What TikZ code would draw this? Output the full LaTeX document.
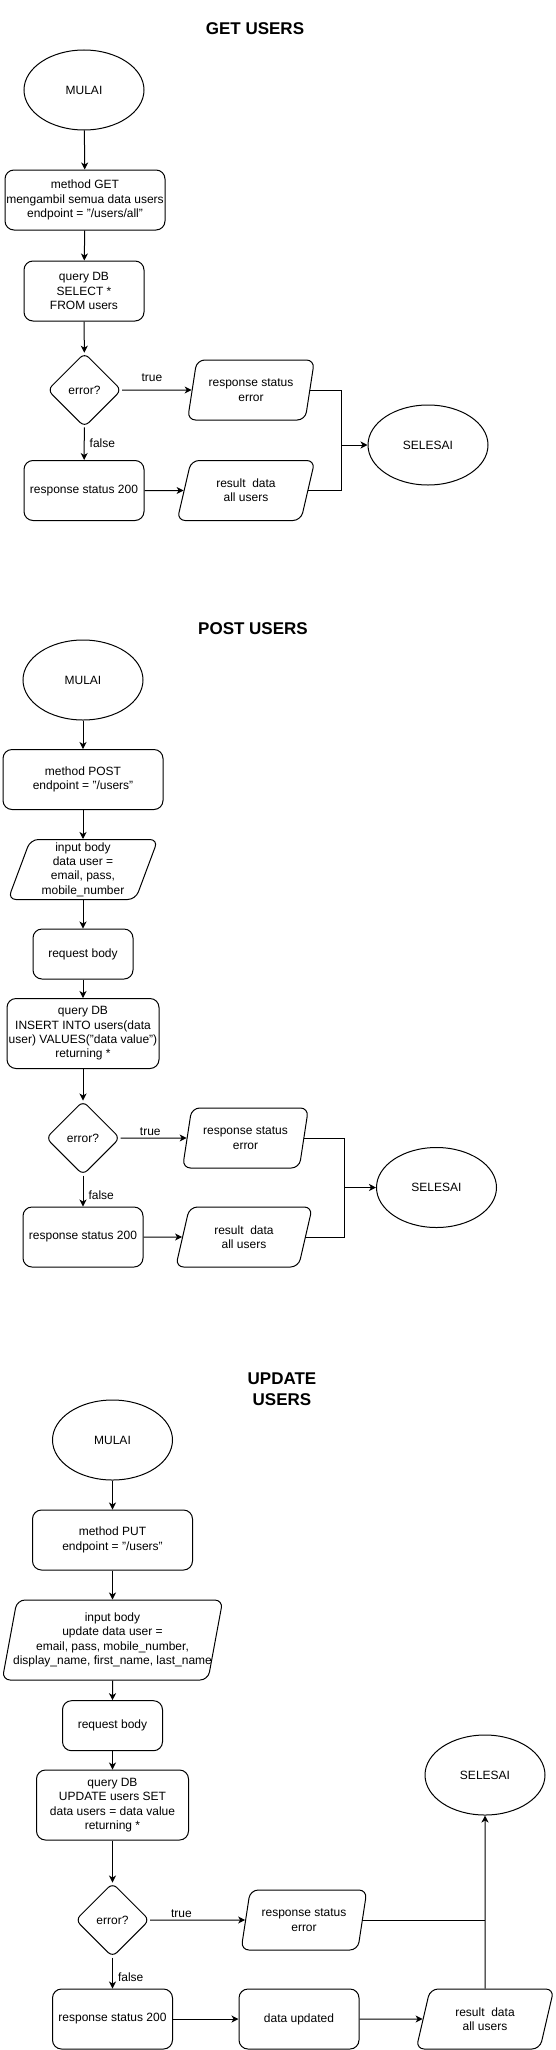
\documentclass[tikz,border=0pt]{standalone}
\usepackage{fontspec}
\setmainfont{Liberation Sans}
\usetikzlibrary{shapes.geometric,arrows.meta,calc}

\begin{document}
\begin{tikzpicture}[
		x=1pt, y=-1pt,
		every node/.style={font=\fontsize{12}{14.4}\selectfont},
		ttl/.style={font=\fontsize{17}{21}\selectfont\bfseries, align=center},
		term/.style={draw, ellipse, minimum width=120, minimum height=80, inner sep=0pt},
		proc/.style={draw, rounded corners=9pt, minimum width=120, minimum height=60, inner sep=1pt, align=center},
		io/.style={draw, trapezium, trapezium left angle=72, trapezium right angle=108, trapezium stretches=true,
			rounded corners=8pt, minimum width=128, minimum height=60, inner sep=0pt, align=center},
		dec/.style={draw, diamond, aspect=1, rounded corners=6pt, minimum width=74, minimum height=74, inner sep=0pt},
		arr/.style={-{Stealth[length=7pt, width=7pt, inset=2pt]}},
		lbl/.style={inner sep=1pt},
		line width=1pt
		]
		\useasboundingbox (0,0) rectangle (555,2050);
		
		% ===== GET USERS =====
		\node[ttl] (gTitle) at (255,29) {GET USERS};
		\node[term] (gStart) at (84,90) {MULAI};
		\node[proc, minimum width=160] (gMethod) at (85,200) {method GET\\mengambil semua data users\\endpoint = "/users/all"};
		\node[proc] (gQuery) at (84,291) {query DB\\SELECT *\\FROM users};
		\node[dec] (gCheck) at (84.5,390) {error?};
		\node[io] (gFail) at (251,390) {response status\\error};
		\node[term] (gEnd) at (428,445) {SELESAI};
		\node[proc] (gOk) at (84,490.5) {response status 200};
		\node[io, minimum width=138] (gResult) at (246,490.5) {result\ \ data\\all users};
		\coordinate (gJoin) at (341,445);
		
		\draw[arr] (gStart) -- (gMethod);
		\draw[arr] (gMethod) -- (gQuery);
		\draw[arr] (gQuery) -- (gCheck);
		\draw[arr] (gCheck) -- node[lbl, pos=0.43, above, yshift=7pt] {true} (gFail);
		\draw[arr] (gCheck) -- node[lbl, right, xshift=4pt] {false} (gOk);
		\draw[arr] (gOk) -- (gResult);
		\draw (gFail.east) -| (gJoin);
		\draw (gResult.east) -| (gJoin);
		\draw[arr] (gJoin) -- (gEnd);
		
		% ===== POST USERS =====
		\node[ttl] (pTitle) at (253,629) {POST USERS};
		\node[term] (pStart) at (83,680) {MULAI};
		\node[proc, minimum width=160] (pMethod) at (83,779.5) {method POST\\endpoint = "/users"};
		\node[io, minimum width=150] (pInput) at (83,869.5) {input body\\data user =\\email, pass,\\mobile\_number};
		\node[proc, minimum width=100, minimum height=50] (pBody) at (83,954) {request body};
		\node[proc, minimum width=152, minimum height=70] (pQuery) at (83,1033.5) {query DB\\INSERT INTO users(data\\user) VALUES("data value")\\returning *};
		\node[dec] (pCheck) at (83,1138) {error?};
		\node[io, minimum width=127] (pFail) at (245.5,1138) {response status\\error};
		\node[term] (pEnd) at (436.5,1187.5) {SELESAI};
		\node[proc] (pOk) at (83,1237) {response status 200};
		\node[io, minimum width=137] (pResult) at (244,1237) {result\ \ data\\all users};
		\coordinate (pJoin) at (344,1187.5);
		
		\draw[arr] (pStart) -- (pMethod);
		\draw[arr] (pMethod) -- (pInput);
		\draw[arr] (pInput) -- (pBody);
		\draw[arr] (pBody) -- (pQuery);
		\draw[arr] (pQuery) -- (pCheck);
		\draw[arr] (pCheck) -- node[lbl, pos=0.45, yshift=6pt] {true} (pFail);
		\draw[arr] (pCheck) -- node[lbl, right, xshift=4pt, yshift=-4pt] {false} (pOk);
		\draw[arr] (pOk) -- (pResult);
		\draw (pFail.east) -| (pJoin);
		\draw (pResult.east) -| (pJoin);
		\draw[arr] (pJoin) -- (pEnd);
		
		% ===== UPDATE USERS =====
		\node[ttl] (uTitle) at (282,1389.5) {UPDATE\\USERS};
		\node[term] (uStart) at (112.5,1440) {MULAI};
		\node[proc, minimum width=160] (uMethod) at (112.5,1540) {method PUT\\endpoint = "/users"};
		\node[io, minimum width=221, minimum height=80, trapezium left angle=76, trapezium right angle=104, inner xsep=-12pt] (uInput) at (112.5,1640) {input body\\update data user =\\email, pass, mobile\_number,\\display\_name, first\_name, last\_name};
		\node[proc, minimum width=100, minimum height=50] (uBody) at (112.5,1725.7) {request body};
		\node[proc, minimum width=152, minimum height=70] (uQuery) at (112.5,1805) {query DB\\UPDATE users SET\\data users = data value\\returning *};
		\node[dec] (uCheck) at (112.5,1920) {error?};
		\node[io, minimum width=127] (uFail) at (304,1920) {response status\\error};
		\node[term] (uEnd) at (485,1775) {SELESAI};
		\node[proc] (uOk) at (112.5,2019) {response status 200};
		\node[proc] (uUpd) at (299,2019) {data updated};
		\node[io, minimum width=138] (uResult) at (485,2019) {result\ \ data\\all users};
		\coordinate (uJoin) at (uFail.east -| uEnd.south);
		
		\draw[arr] (uStart) -- (uMethod);
		\draw[arr] (uMethod) -- (uInput);
		\draw[arr] (uInput) -- (uBody);
		\draw[arr] (uBody) -- (uQuery);
		\draw[arr] (uQuery) -- (uCheck);
		\draw[arr] (uCheck) -- node[lbl, pos=0.33, yshift=6pt] {true} (uFail);
		\draw[arr] (uCheck) -- node[lbl, right, xshift=4pt, yshift=-4pt] {false} (uOk);
		\draw[arr] (uOk) -- (uUpd);
		\draw[arr] (uUpd) -- (uResult);
		\draw[arr] (uResult.north) -- (uEnd.south);
		\draw (uFail.east) -- (uJoin);
		
	\end{tikzpicture}
\end{document}
